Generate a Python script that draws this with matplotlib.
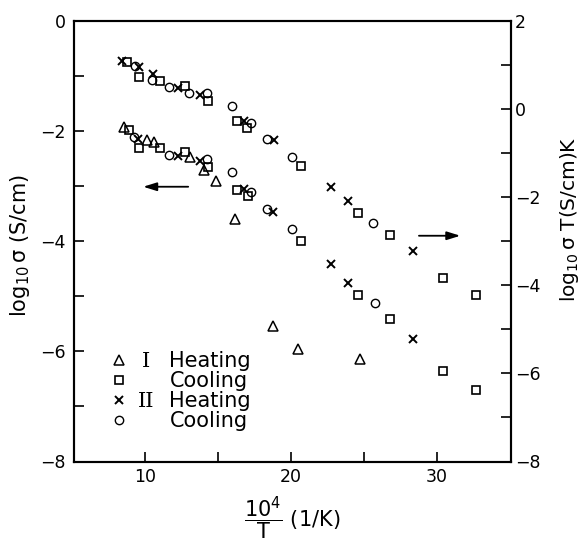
import matplotlib
matplotlib.use("Agg")
import matplotlib.pyplot as plt
from matplotlib.ticker import FixedLocator

plt.rcParams['font.family'] = ['DejaVu Sans']
plt.rcParams['mathtext.fontset'] = 'dejavusans'

# ---- lower branch: log10 sigma (left axis) ----
x_h1 = [8.51, 10.12, 10.57, 13.09, 14.00, 14.87, 16.17, 18.75, 20.47, 24.70]
s_h1 = [-1.93, -2.16, -2.19, -2.47, -2.71, -2.90, -3.60, -5.54, -5.95, -6.13]

x_c1 = [8.85, 9.54, 11.03, 12.70, 14.27, 16.29, 17.04, 20.71, 24.59, 26.80, 30.46, 32.70]
s_c1 = [-1.98, -2.30, -2.30, -2.38, -2.65, -3.07, -3.18, -4.00, -4.98, -5.42, -6.36, -6.70]

x_h2 = [9.50, 12.22, 13.72, 16.79, 18.76, 22.76, 23.94, 28.36]
s_h2 = [-2.15, -2.45, -2.54, -3.05, -3.47, -4.41, -4.75, -5.78]

x_c2 = [9.20, 11.60, 14.23, 15.95, 17.25, 18.35, 20.08, 25.73]
s_c2 = [-2.10, -2.44, -2.51, -2.74, -3.10, -3.41, -3.78, -5.12]

# ---- upper branch: log10 sigma*T (right axis) ----
xt_c1 = [8.74, 9.54, 11.03, 12.74, 14.27, 16.29, 16.98, 20.71, 24.63, 26.80, 30.46, 32.70]
st_c1 = [1.07, 0.73, 0.64, 0.52, 0.18, -0.27, -0.44, -1.30, -2.35, -2.85, -3.83, -4.21]

xt_h2 = [8.40, 9.54, 10.53, 12.24, 13.77, 16.79, 18.80, 22.76, 23.94, 28.36]
st_h2 = [1.10, 0.95, 0.79, 0.49, 0.32, -0.27, -0.70, -1.77, -2.09, -3.23]

xt_c2 = [9.27, 10.46, 11.65, 12.97, 14.23, 15.95, 17.25, 18.35, 20.06, 25.66]
st_c2 = [0.98, 0.67, 0.51, 0.36, 0.36, 0.07, -0.31, -0.67, -1.08, -2.58]

legend_labels = ["Heating", "Cooling", "Heating", "Cooling"]
legend_groups = ["I", "", "II", ""]

fig = plt.figure(figsize=(5.82, 5.46), dpi=100)
ax = fig.add_axes([74 / 582, 84.5 / 546, 437 / 582, 440.5 / 546])
ax2 = ax.twinx()

tri = dict(marker='^', ms=6.5, mfc='none', mec='black', mew=1.1, ls='none')
sq = dict(marker='s', ms=6, mfc='none', mec='black', mew=1.2, ls='none')
cr = dict(marker='x', ms=6, mec='black', mew=1.4, ls='none')
ci = dict(marker='o', ms=6, mfc='none', mec='black', mew=1.0, ls='none')

h1, = ax.plot(x_h1, s_h1, **tri)
c1, = ax.plot(x_c1, s_c1, **sq)
h2, = ax.plot(x_h2, s_h2, **cr)
c2, = ax.plot(x_c2, s_c2, **ci)

ax2.plot(xt_c1, st_c1, **sq)
ax2.plot(xt_h2, st_h2, **cr)
ax2.plot(xt_c2, st_c2, **ci)

ax.set_xlim(5.1, 35.1)
ax.set_ylim(-8, 0)
ax2.set_ylim(-8, 2)

ax.xaxis.set_major_locator(FixedLocator([10, 20, 30]))
ax.xaxis.set_minor_locator(FixedLocator([15, 25]))
ax.yaxis.set_major_locator(FixedLocator([0, -2, -4, -6, -8]))
ax.yaxis.set_minor_locator(FixedLocator([-1, -3, -5, -7]))
ax2.yaxis.set_major_locator(FixedLocator([2, 0, -2, -4, -6, -8]))
ax2.yaxis.set_minor_locator(FixedLocator([1, -1, -3, -5, -7]))

for a in (ax, ax2):
    a.tick_params(which='both', direction='in', length=7, width=1.2, labelsize=12.5)
    for sp in a.spines.values():
        sp.set_linewidth(1.5)
ax.tick_params(axis='x', pad=5, top=False)
ax.tick_params(axis='y', pad=6)
ax2.tick_params(axis='y', pad=3)

ax.set_ylabel(r'$\log_{10}\mathrm{\sigma}$ (S/cm)', fontsize=15)
ax.yaxis.set_label_coords(-0.095, 0.49)
ax2.set_ylabel(r'$\log_{10}\mathrm{\sigma}$ T(S/cm)K', fontsize=14.5)
ax2.yaxis.set_label_coords(1.108, 0.55)
ax.set_xlabel(r'$\dfrac{10^{4}}{\mathrm{T}}$ (1/K)', fontsize=15, labelpad=6)

arrow = dict(arrowstyle='-|>,head_length=0.8,head_width=0.25', color='black', lw=1.3)
ax.annotate('', xy=(9.66, -3.01), xytext=(13.13, -3.01), arrowprops=arrow)
ax.annotate('', xy=(31.81, -3.90), xytext=(28.59, -3.90), arrowprops=arrow)

leg = ax.legend([h1, c1, h2, c2], legend_labels, loc='upper left',
                bbox_to_anchor=(0.08, 0.25), frameon=False, fontsize=15,
                handlelength=1.0, handletextpad=1.9, labelspacing=0.0,
                borderpad=0, borderaxespad=0, numpoints=1)

fig.canvas.draw()
renderer = fig.canvas.get_renderer()
for txt, grp in zip(leg.get_texts(), legend_groups):
    if not grp:
        continue
    bb = txt.get_window_extent(renderer)
    fx = (bb.x0 - 23) / fig.bbox.width
    fy = (bb.y0 + bb.y1) / 2 / fig.bbox.height
    fig.text(fx, fy, grp, family='DejaVu Serif', fontsize=15,
             ha='center', va='center')

fig.savefig('out.png', dpi=100)
